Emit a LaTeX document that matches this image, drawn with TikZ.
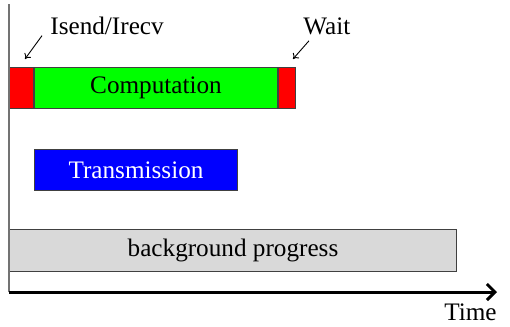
\documentclass[tikz,border=0pt]{standalone}
\usepackage{fontspec}
\setmainfont{Liberation Serif}
\usetikzlibrary{arrows, arrows.meta, positioning, calc}
\tikzstyle{slot} = [rectangle, minimum height=20.5pt, inner sep=0pt, text centered, draw=black!75, line width=0.5pt]
\tikzstyle{tag} = [inner sep=0pt, anchor=base west]
\tikzstyle{pointer} = [-{To[length=2.5pt,width=4pt]}, line width=0.45pt]

\begin{document}
\begin{tikzpicture}[x=0.5pt, y=-0.5pt, font=\fontsize{12.6}{15}\selectfont]
				\useasboundingbox (0,0) rectangle (510,327);
				\coordinate (origin) at (9,292);
				\coordinate (ytop) at (9,4);
				\coordinate (tend) at (497,292);
				
				\node (isend) [slot, fill=red, minimum width=12pt, anchor=north west] at (9,67) {};
				\node (comp) [slot, fill=green, minimum width=121.5pt, right=0pt of isend] {Computation};
				\node (wait) [slot, fill=red, minimum width=8.5pt, right=0pt of comp] {};
				\node (trans) [slot, fill=blue, text=white, minimum width=101.5pt, below=20pt of comp.south west, anchor=north west] {Transmission};
				\node (bg) [slot, fill=black!15, minimum width=223.5pt, minimum height=21pt, anchor=north west] at (9,229) {background progress};
				
				\node (isendlbl) [tag] at (50,34) {Isend/Irecv};
				\node (waitlbl) [tag] at (303,34) {Wait};
				\node (time) [below=5.5pt of tend, anchor=north east, inner sep=0pt] {Time};
				
				\draw[pointer] ([shift={(-8,1)}]isendlbl.south west) -- ([shift={(3.5,-8)}]isend.north);
				\draw[pointer] ([shift={(6,6)}]waitlbl.south west) -- ([shift={(6,-8)}]wait.north);
				\draw[line width=1pt, black!55] (origin) -- (ytop);
				\draw[-{Straight Barb[length=4pt,width=8pt]}, line width=1.5pt] (origin) -- (tend);
			\end{tikzpicture}
\end{document}
